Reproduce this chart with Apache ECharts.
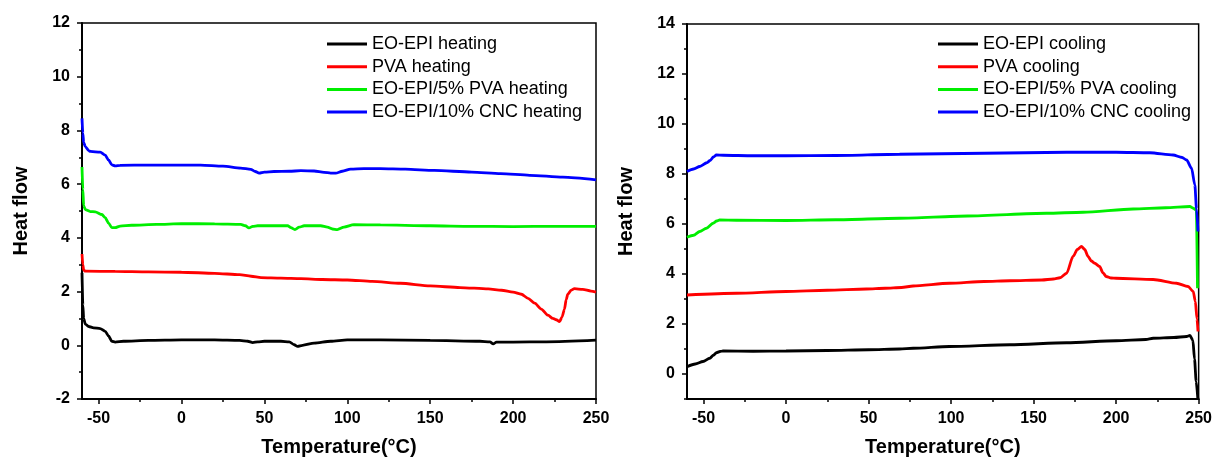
<!DOCTYPE html>
<html>
<head>
<meta charset="utf-8">
<script src="https://cdn.jsdelivr.net/npm/echarts@6/dist/echarts.min.js"></script>
<style>
  html, body { margin: 0; padding: 0; background: #fff; }
  #chart { width: 1215px; height: 462px; }
</style>
</head>
<body>
<div id="chart"></div>
<script>
// ---- DSC heat-flow curves: heating scans (left) and cooling scans (right) ----

// Axis ticks
const xMajorTicks = [-50, 0, 50, 100, 150, 200, 250];
const xMinorTicks = [-25, 25, 75, 125, 175, 225];
const yMajorHeat = [-2, 0, 2, 4, 6, 8, 10, 12];
const yMinorHeat = [-1, 1, 3, 5, 7, 9, 11];
const yMajorCool = [0, 2, 4, 6, 8, 10, 12, 14];
const yMinorCool = [-1, 1, 3, 5, 7, 9, 11, 13];

// Heating: EO-EPI
const heatEoT = [-60, -59.5, -59, -58, -56, -53, -49, -46, -44, -42, -40, -35, -20, 0, 20, 35, 40, 43, 46, 50, 60, 65, 68, 70, 73, 80, 90, 100, 120, 150, 180, 186, 188, 190, 200, 220, 250];
const heatEoHF = [2.7, 1.5, 1.0, 0.79, 0.7, 0.65, 0.62, 0.52, 0.35, 0.15, 0.12, 0.15, 0.18, 0.2, 0.2, 0.18, 0.15, 0.1, 0.13, 0.15, 0.15, 0.13, 0.02, -0.04, 0.0, 0.08, 0.15, 0.2, 0.2, 0.18, 0.15, 0.13, 0.05, 0.12, 0.12, 0.13, 0.19];

// Heating: PVA
const heatPvaT = [-60, -59.5, -59, -58, -40, -20, 0, 20, 35, 42, 48, 60, 72, 85, 100, 115, 132, 150, 168, 185, 193, 200, 205, 209, 213, 217, 221, 224, 226, 228, 229.5, 231, 232, 233, 235, 237, 242, 247, 250];
const heatPvaHF = [3.4, 3.0, 2.8, 2.76, 2.75, 2.73, 2.72, 2.68, 2.63, 2.57, 2.52, 2.5, 2.48, 2.45, 2.43, 2.38, 2.31, 2.21, 2.15, 2.1, 2.05, 1.98, 1.9, 1.75, 1.57, 1.35, 1.12, 1.0, 0.95, 0.88, 1.05, 1.35, 1.7, 1.9, 2.05, 2.11, 2.08, 2.02, 1.98];

// Heating: EO-EPI/5% PVA
const heatEo5T = [-60, -59.5, -59, -58, -55, -52, -48, -46, -44, -42, -40, -37, -30, -15, 0, 20, 35.8, 38.5, 40.7, 43, 46, 55, 64, 66, 68.4, 71, 74, 84, 88, 91, 94, 98, 104, 120, 150, 175, 200, 225, 250];
const heatEo5HF = [6.64, 5.8, 5.2, 5.05, 4.98, 4.97, 4.87, 4.75, 4.55, 4.38, 4.38, 4.44, 4.47, 4.5, 4.53, 4.52, 4.5, 4.45, 4.37, 4.43, 4.45, 4.45, 4.45, 4.38, 4.31, 4.4, 4.45, 4.45, 4.4, 4.33, 4.31, 4.4, 4.49, 4.48, 4.45, 4.43, 4.42, 4.43, 4.43];

// Heating: EO-EPI/10% CNC
const heatEo10T = [-60, -59.5, -59, -58, -56, -55, -49, -46, -44, -42, -40, -37, -20, 0, 11.5, 25, 35.7, 41.8, 44.5, 46.8, 50, 55.8, 65, 72, 80, 86, 90, 93, 97, 102, 110, 120, 135, 152.5, 175, 192.5, 210, 230, 250];
const heatEo10HF = [8.45, 7.9, 7.55, 7.4, 7.25, 7.22, 7.19, 7.08, 6.9, 6.72, 6.68, 6.7, 6.71, 6.71, 6.71, 6.67, 6.6, 6.55, 6.47, 6.41, 6.45, 6.47, 6.48, 6.5, 6.49, 6.44, 6.41, 6.41, 6.48, 6.56, 6.58, 6.58, 6.56, 6.51, 6.45, 6.39, 6.33, 6.26, 6.16];

// Cooling: EO-EPI
const coolEoT = [-60, -55, -50.3, -46.2, -44, -42.2, -40, -38.2, -20, 0, 25, 50, 68.8, 77, 99, 135.6, 170, 200, 218, 222.4, 235, 242.7, 244.7, 246.5, 247.5, 248.5, 249.5];
const coolEoHF = [0.29, 0.4, 0.5, 0.63, 0.75, 0.85, 0.9, 0.92, 0.91, 0.92, 0.94, 0.97, 1.0, 1.03, 1.1, 1.17, 1.25, 1.33, 1.38, 1.43, 1.46, 1.5, 1.54, 1.35, 0.6, -0.3, -1.0];

// Cooling: PVA
const coolPvaT = [-60, -30, 0, 25, 48.7, 60, 70, 77, 99, 120, 135.6, 155, 162, 166, 170, 173.9, 176.5, 179, 181, 183, 185, 187, 190, 192, 194, 197, 200, 222.4, 236.6, 243.6, 246.7, 248, 249, 249.6];
const coolPvaHF = [3.16, 3.23, 3.3, 3.35, 3.4, 3.43, 3.46, 3.52, 3.63, 3.7, 3.73, 3.76, 3.8, 3.85, 4.03, 4.7, 4.98, 5.1, 4.98, 4.7, 4.52, 4.43, 4.3, 4.05, 3.9, 3.84, 3.83, 3.78, 3.63, 3.5, 3.3, 2.9, 2.2, 1.7];

// Cooling: EO-EPI/5% PVA
const coolEo5T = [-60, -56, -52.3, -48.2, -44.2, -42, -40.2, -30, 0, 30, 68.8, 110, 157.8, 180, 210.3, 230, 244.7, 246.7, 248.6, 249.3];
const coolEo5HF = [5.47, 5.55, 5.7, 5.83, 6.03, 6.12, 6.16, 6.15, 6.14, 6.17, 6.23, 6.32, 6.43, 6.47, 6.6, 6.65, 6.7, 6.63, 6.55, 3.43];

// Cooling: EO-EPI/10% CNC
const coolEo10T = [-60, -56, -52.3, -48, -46, -44, -42.2, -38, -20, 0, 30, 68.8, 120, 170, 200, 220.4, 234.5, 240, 242.7, 245.7, 247.7, 248.7, 249.6];
const coolEo10HF = [8.1, 8.2, 8.3, 8.45, 8.54, 8.68, 8.76, 8.75, 8.73, 8.73, 8.74, 8.79, 8.83, 8.87, 8.87, 8.85, 8.76, 8.66, 8.56, 8.23, 7.56, 6.6, 5.7];

const heatNames = ['EO-EPI heating', 'PVA heating', 'EO-EPI/5% PVA heating', 'EO-EPI/10% CNC heating'];
const coolNames = ['EO-EPI cooling', 'PVA cooling', 'EO-EPI/5% PVA cooling', 'EO-EPI/10% CNC cooling'];
const colors = ['#000000', '#ff0000', '#00ee00', '#0000ff'];

const FONT = '"Liberation Sans", Arial, Helvetica, sans-serif';

function pairs(t, v) { return t.map((x, i) => [x, v[i]]); }

function xAxisMain(gi) {
  return {
    type: 'value', gridIndex: gi, min: -60, max: 250, position: 'bottom',
    axisLine: { show: true, onZero: false, lineStyle: { color: '#000', width: 2 } },
    axisTick: { show: true, customValues: xMajorTicks, length: 5, lineStyle: { color: '#000', width: 1.5 } },
    axisLabel: { customValues: xMajorTicks, margin: 12, color: '#000', fontSize: 16, fontWeight: 'bold', fontFamily: FONT },
    splitLine: { show: false },
    name: 'Temperature(°C)', nameLocation: 'middle', nameGap: 38,
    nameTextStyle: { color: '#000', fontSize: 20, fontWeight: 'bold', fontFamily: FONT }
  };
}
function xAxisMinor(gi) {
  return {
    type: 'value', gridIndex: gi, min: -60, max: 250, position: 'bottom',
    axisLine: { show: false, onZero: false },
    axisTick: { show: true, customValues: xMinorTicks, length: 3, lineStyle: { color: '#000', width: 1.5 } },
    axisLabel: { show: false }, splitLine: { show: false }
  };
}
function yAxisMain(gi, min, max, major) {
  return {
    type: 'value', gridIndex: gi, min: min, max: max, position: 'left',
    axisLine: { show: true, onZero: false, lineStyle: { color: '#000', width: 2 } },
    axisTick: { show: true, customValues: major, length: 5, lineStyle: { color: '#000', width: 1.5 } },
    axisLabel: { customValues: major, margin: 12, color: '#000', fontSize: 16, fontWeight: 'bold', fontFamily: FONT },
    splitLine: { show: false },
    name: 'Heat flow', nameLocation: 'middle', nameGap: 51, nameRotate: 90,
    nameTextStyle: { color: '#000', fontSize: 20, fontWeight: 'bold', fontFamily: FONT }
  };
}
function yAxisMinor(gi, min, max, minor) {
  return {
    type: 'value', gridIndex: gi, min: min, max: max, position: 'left',
    axisLine: { show: false, onZero: false },
    axisTick: { show: true, customValues: minor, length: 3, lineStyle: { color: '#000', width: 1.5 } },
    axisLabel: { show: false }, splitLine: { show: false }
  };
}
function curve(name, t, v, color, xi, yi) {
  return {
    name: name, type: 'line', xAxisIndex: xi, yAxisIndex: yi,
    data: pairs(t, v), symbol: 'none', smooth: 0.25, smoothMonotone: 'x',
    lineStyle: { color: color, width: 2.8 }, itemStyle: { color: color },
    silent: true, animation: false
  };
}
function legendBox(names, left) {
  return {
    data: names, left: left, top: 35, orient: 'vertical', padding: 0,
    icon: 'rect', itemWidth: 40, itemHeight: 3, itemGap: 4.7, selectedMode: false,
    textStyle: { color: '#000', fontSize: 18, fontFamily: FONT, lineHeight: 18 }
  };
}

const chart = echarts.init(document.getElementById('chart'), null, { renderer: 'canvas' });
chart.setOption({
  backgroundColor: '#fff',
  animation: false,
  grid: [
    { left: 82, top: 23, width: 514, height: 377, show: true, borderColor: '#000', borderWidth: 1.5, containLabel: false },
    { left: 687, top: 24, width: 512, height: 377, show: true, borderColor: '#000', borderWidth: 1.5, containLabel: false }
  ],
  xAxis: [xAxisMain(0), xAxisMinor(0), xAxisMain(1), xAxisMinor(1)],
  yAxis: [
    yAxisMain(0, -2, 12, yMajorHeat), yAxisMinor(0, -2, 12, yMinorHeat),
    yAxisMain(1, -1, 14, yMajorCool), yAxisMinor(1, -1, 14, yMinorCool)
  ],
  legend: [legendBox(heatNames, 327), legendBox(coolNames, 938)],
  series: [
    curve(heatNames[0], heatEoT, heatEoHF, colors[0], 0, 0),
    curve(heatNames[1], heatPvaT, heatPvaHF, colors[1], 0, 0),
    curve(heatNames[2], heatEo5T, heatEo5HF, colors[2], 0, 0),
    curve(heatNames[3], heatEo10T, heatEo10HF, colors[3], 0, 0),
    curve(coolNames[0], coolEoT, coolEoHF, colors[0], 2, 2),
    curve(coolNames[1], coolPvaT, coolPvaHF, colors[1], 2, 2),
    curve(coolNames[2], coolEo5T, coolEo5HF, colors[2], 2, 2),
    curve(coolNames[3], coolEo10T, coolEo10HF, colors[3], 2, 2)
  ]
});
</script>
</body>
</html>
